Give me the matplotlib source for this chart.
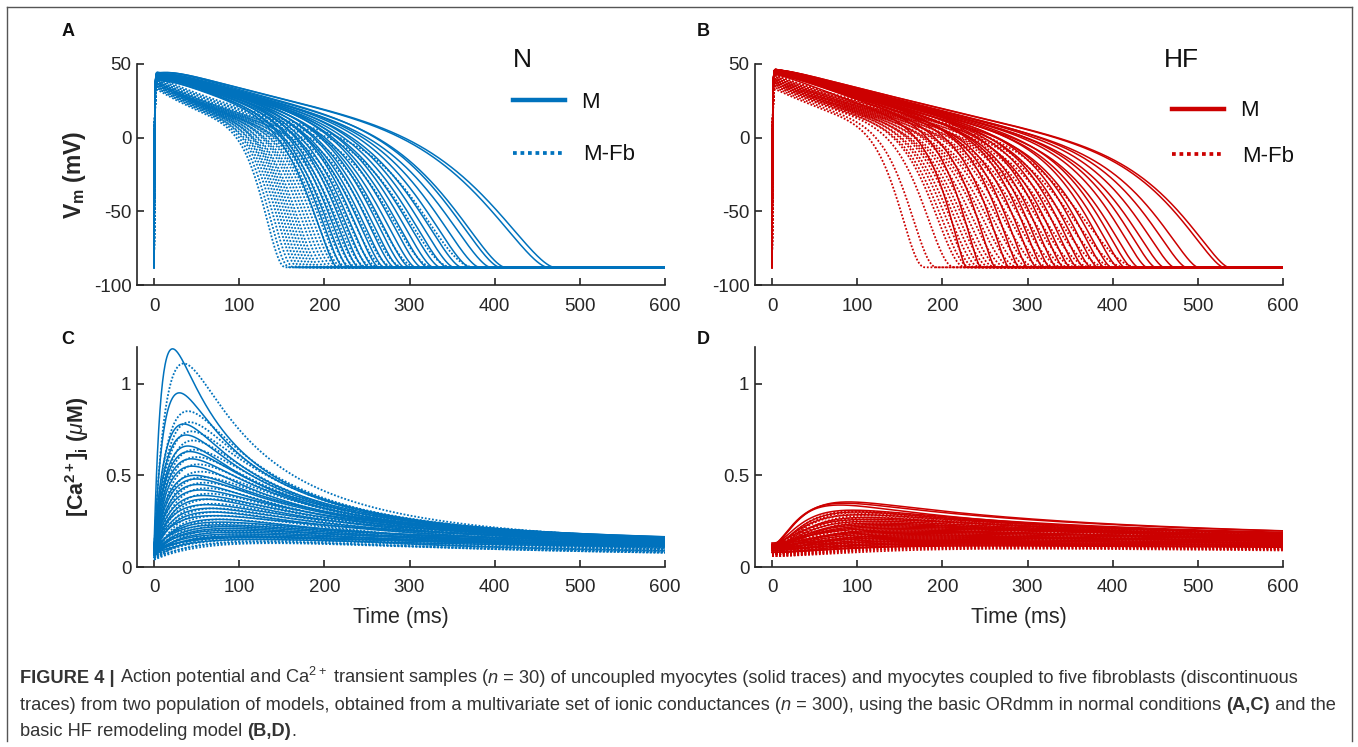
import numpy as np
import matplotlib
matplotlib.use("Agg")
import matplotlib.pyplot as plt
from matplotlib.lines import Line2D

plt.rcParams['font.family'] = ['Liberation Sans', 'DejaVu Sans']
plt.rcParams['mathtext.fontset'] = 'custom'
plt.rcParams['mathtext.rm'] = 'Liberation Sans'
plt.rcParams['mathtext.it'] = 'Liberation Sans:italic'
plt.rcParams['mathtext.bf'] = 'Liberation Sans:bold'
plt.rcParams['axes.unicode_minus'] = False

# ---------------------------------------------------------------- data
# Action potentials: time at which each trace is back at rest (ms) and initial plateau level (mV)
N_M_apd = [215, 222, 228, 234, 240, 246, 252, 258, 264, 270, 276, 282, 288, 294, 300,
           307, 314, 321, 328, 336, 344, 352, 361, 371, 382, 395, 406, 412, 462, 470]
N_M_vpk = [45, 46, 45, 47, 46, 48, 46, 47, 49, 47, 46, 48, 47, 49, 48,
           47, 49, 48, 49, 47, 48, 49, 48, 49, 49, 48, 50, 49, 50, 50]
N_Fb_apd = [155, 160, 165, 170, 174, 178, 182, 186, 190, 194, 198, 203, 208, 213, 218,
            223, 228, 234, 240, 246, 252, 259, 266, 274, 283, 295, 310, 330, 352, 378]
N_Fb_vpk = [34, 35, 36, 35, 37, 36, 38, 37, 36, 38, 37, 39, 38, 37, 39,
            38, 39, 38, 37, 39, 38, 40, 39, 38, 40, 39, 40, 41, 41, 42]
HF_M_apd = [228, 245, 262, 278, 290, 300, 310, 318, 326, 334, 342, 350, 358, 366, 374,
            382, 390, 398, 406, 414, 422, 430, 440, 450, 460, 472, 486, 500, 530, 536]
HF_M_vpk = [46, 48, 47, 48, 49, 47, 46, 49, 48, 47, 49, 46, 48, 49, 47,
            49, 48, 46, 49, 48, 49, 47, 49, 49, 48, 49, 49, 48, 49, 49]
HF_Fb_apd = [180, 194, 215, 228, 234, 240, 246, 252, 258, 264, 270, 277, 284, 291, 298,
             305, 312, 320, 328, 336, 344, 352, 360, 368, 377, 386, 396, 406, 418, 432]
HF_Fb_vpk = [34, 35, 36, 37, 36, 38, 37, 39, 38, 37, 39, 38, 40, 39, 38,
             40, 39, 41, 40, 39, 41, 40, 42, 41, 40, 42, 41, 43, 42, 43]

# Ca2+ transients: peak (uM), time to peak (ms), decay constant (ms), diastolic level (uM)
N_M_peak = [1.19, 0.95, 0.78, 0.72, 0.66, 0.63, 0.59, 0.55, 0.50, 0.48, 0.45, 0.42, 0.39, 0.37, 0.34,
            0.32, 0.30, 0.28, 0.26, 0.245, 0.23, 0.22, 0.21, 0.20, 0.19, 0.18, 0.17, 0.165, 0.16, 0.15]
N_M_tpk = [22, 30, 35, 38, 40, 42, 44, 45, 48, 50, 52, 55, 58, 60, 62,
           65, 68, 70, 75, 78, 80, 85, 88, 92, 95, 100, 105, 110, 115, 120]
N_M_tdec = [130, 150, 165, 175, 185, 195, 205, 215, 230, 240, 250, 270, 290, 310, 330,
            350, 370, 400, 430, 460, 490, 520, 550, 580, 620, 660, 700, 740, 780, 820]
N_M_base = [0.11, 0.10, 0.11, 0.10, 0.09, 0.11, 0.10, 0.09, 0.11, 0.10, 0.09, 0.11, 0.10, 0.08, 0.11,
            0.09, 0.08, 0.11, 0.07, 0.09, 0.10, 0.08, 0.07, 0.09, 0.07, 0.08, 0.07, 0.08, 0.09, 0.07]
N_Fb_peak = [1.11, 0.85, 0.79, 0.74, 0.69, 0.64, 0.60, 0.56, 0.52, 0.49, 0.46, 0.43, 0.40, 0.37, 0.345,
             0.32, 0.30, 0.28, 0.26, 0.24, 0.225, 0.21, 0.195, 0.18, 0.17, 0.16, 0.15, 0.14, 0.135, 0.13]
N_Fb_tpk = [35, 40, 42, 44, 46, 48, 50, 52, 55, 58, 60, 62, 65, 68, 70,
            72, 75, 78, 82, 86, 90, 95, 100, 105, 110, 115, 120, 125, 130, 140]
N_Fb_tdec = [130, 160, 170, 180, 190, 200, 210, 220, 230, 240, 250, 260, 270, 280, 290,
             300, 310, 320, 330, 340, 350, 360, 370, 380, 390, 400, 410, 420, 430, 450]
N_Fb_base = [0.09, 0.08, 0.07, 0.09, 0.06, 0.08, 0.07, 0.06, 0.08, 0.06, 0.07, 0.06, 0.05, 0.08, 0.06,
             0.07, 0.05, 0.06, 0.05, 0.06, 0.07, 0.05, 0.06, 0.05, 0.04, 0.05, 0.06, 0.04, 0.05, 0.04]
HF_M_peak = [0.355, 0.348, 0.338, 0.31, 0.30, 0.285, 0.27, 0.26, 0.25, 0.24, 0.232, 0.225, 0.218, 0.21, 0.203,
             0.196, 0.19, 0.183, 0.176, 0.17, 0.164, 0.158, 0.152, 0.146, 0.14, 0.135, 0.13, 0.125, 0.12, 0.115]
HF_M_tpk = [90, 85, 80, 95, 100, 105, 110, 115, 120, 125, 130, 135, 140, 145, 150,
            155, 160, 165, 170, 175, 180, 185, 190, 200, 210, 220, 230, 240, 250, 260]
HF_M_tdec = [530, 560, 500, 600, 620, 650, 680, 700, 720, 750, 780, 800, 820, 850, 880,
             900, 950, 1000, 1050, 1100, 1150, 1200, 1250, 1300, 1350, 1400, 1450, 1500, 1600, 1700]
HF_M_base = [0.12, 0.12, 0.11, 0.12, 0.11, 0.12, 0.10, 0.13, 0.11, 0.10, 0.12, 0.11, 0.12, 0.13, 0.10,
             0.12, 0.12, 0.11, 0.09, 0.11, 0.10, 0.12, 0.10, 0.09, 0.11, 0.09, 0.08, 0.10, 0.08, 0.08]
HF_Fb_peak = [0.305, 0.298, 0.29, 0.28, 0.27, 0.26, 0.25, 0.24, 0.23, 0.22, 0.21, 0.20, 0.19, 0.18, 0.175,
              0.17, 0.165, 0.16, 0.155, 0.15, 0.145, 0.14, 0.135, 0.13, 0.125, 0.12, 0.115, 0.11, 0.105, 0.10]
HF_Fb_tpk = [100, 105, 110, 115, 120, 125, 130, 135, 140, 145, 150, 155, 160, 165, 170,
             175, 180, 185, 190, 195, 200, 210, 220, 230, 240, 250, 260, 270, 280, 300]
HF_Fb_tdec = [600, 650, 700, 720, 750, 780, 800, 850, 900, 950, 1000, 1050, 1100, 1150, 1200,
              1250, 1300, 1350, 1400, 1450, 1500, 1400, 1300, 1200, 1100, 1000, 950, 900, 850, 800]
HF_Fb_base = [0.10, 0.09, 0.10, 0.08, 0.09, 0.09, 0.07, 0.09, 0.08, 0.08, 0.07, 0.09, 0.08, 0.08, 0.07,
              0.08, 0.09, 0.07, 0.08, 0.07, 0.07, 0.08, 0.07, 0.07, 0.07, 0.06, 0.07, 0.06, 0.07, 0.06]

x_ticks = [0, 100, 200, 300, 400, 500, 600]
v_ticks = [-100, -50, 0, 50]
ca_ticks = [0, 0.5, 1]
ca_tick_labels = ['0', '0.5', '1']

# ---------------------------------------------------------------- trace shapes
t = np.concatenate([np.linspace(0, 4, 81), np.arange(4.5, 600.01, 0.5)])
V_REST = -88.0

# per-group waveform shape: plateau asymptote, plateau time constant, reference duration,
# repolarisation exponents, notch depth
SHAPE_N_M = (-60.0, 630.0, 470.0, 6, 1.6, 0.05)
SHAPE_N_FB = (-20.0, 152.0, 155.0, 7, 2.5, 0.0)
SHAPE_HF_M = (-200.0, 1600.0, 536.0, 9, 1.5, 0.02)
SHAPE_HF_FB = (-30.0, 230.0, 180.0, 7, 2.5, 0.0)


def ap_trace(apd, vpk, shape):
    p_inf, tau_p, apd_ref, a, b, d = shape
    tau = tau_p * np.sqrt(apd / apd_ref)
    plateau = p_inf + (vpk - p_inf) * np.exp(-t / tau)
    s = np.clip(t / apd, 0, 1)
    rep = (1 - s ** a) ** b
    up = 1 - np.exp(-t / 0.6)
    notch = 1 - d * (1 - np.exp(-t / 2.0)) * np.exp(-t / 20.0)
    return V_REST + (plateau - V_REST) * rep * up * notch


def ca_shape(tau_r, tau_d, rise_pow):
    return (1 - np.exp(-t / tau_r)) ** rise_pow * (1 + t / tau_d) ** -2


def ca_trace(peak, tpk, tau_d, base, rise_pow):
    lo, hi = 0.2, 300.0
    for _ in range(35):
        mid = 0.5 * (lo + hi)
        if t[np.argmax(ca_shape(mid, tau_d, rise_pow))] < tpk:
            lo = mid
        else:
            hi = mid
    g = ca_shape(0.5 * (lo + hi), tau_d, rise_pow)
    return base + (peak - base) * g / g.max()


# ---------------------------------------------------------------- figure
W, H, DPI = 1358, 747, 100
fig = plt.figure(figsize=(W / DPI, H / DPI), dpi=DPI)
BLUE = '#0072BD'
RED = '#CC0000'
AXC = '#262626'
SOLID_LW = 1.1
DOT_LW = 1.3
DOT = (0, (1, 1))


def px_ax(l, r, top, bot):
    return fig.add_axes([l / W, 1 - bot / H, (r - l) / W, (bot - top) / H])


def style(ax, ylim, yticks, ylabels):
    ax.set_xlim(-20, 600)
    ax.set_ylim(*ylim)
    ax.set_xticks(x_ticks)
    ax.set_yticks(yticks)
    ax.set_yticklabels(ylabels)
    for s in ['top', 'right']:
        ax.spines[s].set_visible(False)
    for s in ['left', 'bottom']:
        ax.spines[s].set_color(AXC)
        ax.spines[s].set_linewidth(1.2)
    ax.tick_params(direction='in', length=5, width=1.2, colors=AXC,
                   labelsize=13.5, labelcolor=AXC)
    ax.tick_params(axis='x', pad=9)
    ax.tick_params(axis='y', pad=4)
    ax.patch.set_alpha(0)


axA = px_ax(137, 665, 64, 285)
axB = px_ax(755, 1283, 64, 285)
axC = px_ax(137, 665, 347, 567)
axD = px_ax(755, 1283, 347, 567)

# AP panels
for apd, vpk in zip(N_M_apd, N_M_vpk):
    axA.plot(t, ap_trace(apd, vpk, SHAPE_N_M), color=BLUE, lw=SOLID_LW)
for apd, vpk in zip(N_Fb_apd, N_Fb_vpk):
    axA.plot(t, ap_trace(apd, vpk, SHAPE_N_FB), color=BLUE, lw=DOT_LW, ls=DOT)
for apd, vpk in zip(HF_M_apd, HF_M_vpk):
    axB.plot(t, ap_trace(apd, vpk, SHAPE_HF_M), color=RED, lw=SOLID_LW)
for apd, vpk in zip(HF_Fb_apd, HF_Fb_vpk):
    axB.plot(t, ap_trace(apd, vpk, SHAPE_HF_FB), color=RED, lw=DOT_LW, ls=DOT)

# Ca panels
for p, tp, td, b0 in zip(N_M_peak, N_M_tpk, N_M_tdec, N_M_base):
    axC.plot(t, ca_trace(p, tp, td, b0, 1), color=BLUE, lw=SOLID_LW)
for p, tp, td, b0 in zip(N_Fb_peak, N_Fb_tpk, N_Fb_tdec, N_Fb_base):
    axC.plot(t, ca_trace(p, tp, td, b0, 1), color=BLUE, lw=DOT_LW, ls=DOT)
for p, tp, td, b0 in zip(HF_M_peak, HF_M_tpk, HF_M_tdec, HF_M_base):
    axD.plot(t, ca_trace(p, tp, td, b0, 2), color=RED, lw=SOLID_LW)
for p, tp, td, b0 in zip(HF_Fb_peak, HF_Fb_tpk, HF_Fb_tdec, HF_Fb_base):
    axD.plot(t, ca_trace(p, tp, td, b0, 2), color=RED, lw=DOT_LW, ls=DOT)

for ax in (axA, axB):
    style(ax, (-100, 50), v_ticks, [str(v) for v in v_ticks])
for ax in (axC, axD):
    style(ax, (0, 1.2), ca_ticks, ca_tick_labels)


def ftext(x, y, s, **kw):
    return fig.text(x / W, 1 - y / H, s, **kw)


# panel letters
for lab, (x, y) in zip('ABCD', [(68, 32), (703, 32), (68, 340), (703, 340)]):
    ftext(x, y, lab, ha='center', va='center', weight='bold', size=13, color='#111111')

# axis labels
ftext(74, 175, r'V$_{\mathbf{m}}$ (mV)', rotation=90, ha='center', va='center',
      weight='bold', size=16.5, color=AXC)
ftext(77, 457, r'[Ca$^{\mathbf{2+}}$]$_{\mathbf{i}}$ ($\mu$M)', rotation=90, ha='center',
      va='center', weight='bold', size=15.5, color=AXC)
ftext(401, 617, 'Time (ms)', ha='center', va='center', size=15.5, color=AXC)
ftext(1019, 617, 'Time (ms)', ha='center', va='center', size=15.5, color=AXC)


# legends
def legend(x0, xt, title, title_y, y_m, y_fb, color):
    ftext(xt, title_y, title, ha='left', va='center', size=19, color='#111111')
    fig.add_artist(Line2D([x0 / W, (x0 + 52) / W], [1 - y_m / H] * 2,
                          transform=fig.transFigure, color=color, lw=3.2))
    fig.add_artist(Line2D([x0 / W, (x0 + 52) / W], [1 - y_fb / H] * 2,
                          transform=fig.transFigure, color=color, lw=2.7, ls=(0, (1, 1))))
    ftext(x0 + 68, y_m + 2, 'M', ha='left', va='center', size=16, color='#111111')
    ftext(x0 + 70, y_fb + 2, 'M-Fb', ha='left', va='center', size=16, color='#111111')


legend(513, 513, 'N', 60, 100, 153, BLUE)
legend(1172, 1164, 'HF', 60, 109, 154, RED)

# border
bc = '#555555'
for xs, ys in [([7, 7], [7, 741]), ([7, 1352], [7, 7]), ([1352, 1352], [7, 741])]:
    fig.add_artist(Line2D([x / W for x in xs], [1 - y / H for y in ys],
                          transform=fig.transFigure, color=bc, lw=1.0))

# caption
CAPC = '#333333'
renderer = fig.canvas.get_renderer()
B_ = dict(weight='bold')
I_ = dict(style='italic')
R_ = dict()
lines = [
    [('FIGURE 4 | ', B_), ('Action potential and Ca$^{2+}$ transient samples (', R_), ('n', I_),
     (' = 30) of uncoupled myocytes (solid traces) and myocytes coupled to five fibroblasts (discontinuous', R_)],
    [('traces) from two population of models, obtained from a multivariate set of ionic conductances (', R_),
     ('n', I_), (' = 300), using the basic ORdmm in normal conditions ', R_), ('(A,C)', B_), (' and the', R_)],
    [('basic HF remodeling model ', R_), ('(B,D)', B_), ('.', R_)],
]


def width(txt, size, kw):
    tt = fig.text(0, 0, txt + '|', size=size, **kw)
    t2 = fig.text(0, 0, '|', size=size, **kw)
    w = tt.get_window_extent(renderer).width - t2.get_window_extent(renderer).width
    tt.remove()
    t2.remove()
    return w


size0 = 11.0
w0 = sum(width(s, size0, kw) for s, kw in lines[1])
cap_size = size0 * 1315.0 / w0
for (yline, parts) in zip([683, 710, 736], lines):
    x = 20.0
    for s, kw in parts:
        ftext(x, yline, s, ha='left', va='baseline', size=cap_size, color=CAPC, **kw)
        x += width(s, cap_size, kw)

fig.savefig('out.png', dpi=DPI)
